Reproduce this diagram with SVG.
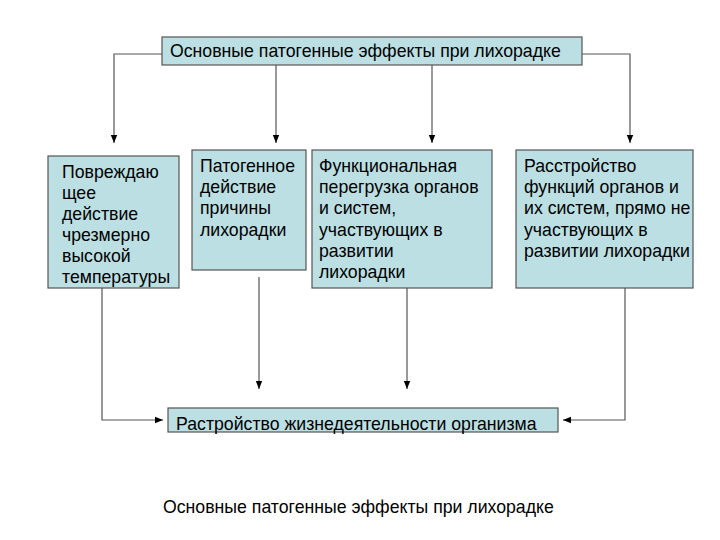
<svg xmlns="http://www.w3.org/2000/svg" width="720" height="540" viewBox="0 0 720 540">
<style>
.box{fill:#bbdfe2;stroke:#555;stroke-width:1.2}
.t{font-family:"Liberation Sans",Arial,sans-serif;font-size:17.7px;fill:#000}
.c{fill:none;stroke:#555;stroke-width:1.2}
</style>
<defs>
<marker id="ah" viewBox="0 0 8 8" refX="8" refY="4" markerWidth="8" markerHeight="8" markerUnits="userSpaceOnUse" orient="auto">
<path d="M0,0.8 L8,4 L0,7.2 Z" fill="#000"/>
</marker>
</defs>
<rect width="720" height="540" fill="#fff"/>
<g id="connectors">
<polyline class="c" points="162,54 114,54 114,143" marker-end="url(#ah)"/>
<polyline class="c" points="582,54 630,54 630,143" marker-end="url(#ah)"/>
<line class="c" x1="276" y1="65" x2="276" y2="143" marker-end="url(#ah)"/>
<line class="c" x1="432" y1="65" x2="432" y2="143" marker-end="url(#ah)"/>
<polyline class="c" points="102,288 102,420 163,420" marker-end="url(#ah)"/>
<line class="c" x1="259" y1="277" x2="259" y2="389" marker-end="url(#ah)"/>
<line class="c" x1="407" y1="288" x2="407" y2="389" marker-end="url(#ah)"/>
<polyline class="c" points="625,288 625,420 563,420" marker-end="url(#ah)"/>
</g>
<g id="top">
<rect class="box" x="162" y="37" width="420" height="28"/>
<text class="t" x="170" y="57">Основные патогенные эффекты при лихорадке</text>
</g>
<g id="n1">
<rect class="box" x="48" y="156" width="131" height="132"/>
<text class="t" x="62" y="178">Повреждаю<tspan x="62" dy="20.9">щее</tspan><tspan x="62" dy="20.9">действие</tspan><tspan x="62" dy="20.9">чрезмерно</tspan><tspan x="62" dy="20.9">высокой</tspan><tspan x="62" dy="20.9">температуры</tspan></text>
</g>
<g id="n2">
<rect class="box" x="192" y="150" width="114" height="120"/>
<text class="t" x="200" y="172">Патогенное<tspan x="200" dy="21.2">действие</tspan><tspan x="200" dy="21.2">причины</tspan><tspan x="200" dy="21.2">лихорадки</tspan></text>
</g>
<g id="n3">
<rect class="box" x="312" y="150" width="180" height="138"/>
<text class="t" x="319" y="172">Функциональная<tspan x="319" dy="21.2">перегрузка органов</tspan><tspan x="319" dy="21.2">и систем,</tspan><tspan x="319" dy="21.2">участвующих в</tspan><tspan x="319" dy="21.2">развитии</tspan><tspan x="319" dy="21.2">лихорадки</tspan></text>
</g>
<g id="n4">
<rect class="box" x="516" y="150" width="177" height="138"/>
<text class="t" x="524" y="172">Расстройство<tspan x="524" dy="21.2">функций органов и</tspan><tspan x="524" dy="21.2">их систем, прямо не</tspan><tspan x="524" dy="21.2">участвующих в</tspan><tspan x="524" dy="21.2">развитии лихорадки</tspan></text>
</g>
<g id="bottom">
<rect class="box" x="168" y="408" width="390" height="24"/>
<text class="t" x="176" y="430">Растройство жизнедеятельности организма</text>
</g>
<text class="t" x="163" y="513">Основные патогенные эффекты при лихорадке</text>
</svg>
